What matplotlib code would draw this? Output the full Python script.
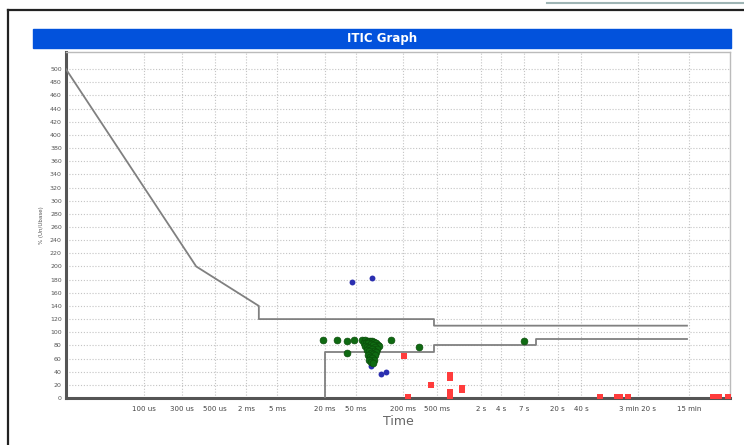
import numpy as np
import matplotlib
matplotlib.use("Agg")
import matplotlib.pyplot as plt
from matplotlib.patches import Rectangle
from matplotlib.lines import Line2D

# ITIC envelope (time in seconds, value in %)
upper_t = [1e-5, 4.6e-4, 2.9e-3, 2.9e-3, 0.5, 0.5, 850]
upper_v = [500, 200, 140, 120, 120, 110, 110]
lower_t = [0.02, 0.02, 0.5, 0.5, 10, 10, 850]
lower_v = [0, 70, 70, 80, 80, 90, 90]

# events
green_t = [0.0191, 0.0289, 0.0389, 0.0478, 0.0389, 0.142, 0.325, 7.0,
           0.060, 0.066, 0.071, 0.076, 0.080, 0.085, 0.090, 0.095, 0.100,
           0.064, 0.068, 0.072, 0.078, 0.083, 0.088, 0.093,
           0.066, 0.070, 0.075, 0.080, 0.086, 0.091,
           0.069, 0.073, 0.078, 0.083, 0.088,
           0.072, 0.076, 0.081, 0.085,
           0.075, 0.079, 0.083]
green_v = [88, 88, 87, 88, 68, 88, 78, 87,
           88, 88, 87, 87, 86, 85, 83, 81, 79,
           84, 84, 83, 82, 80, 78, 75,
           79, 78, 76, 74, 72, 70,
           73, 71, 69, 67, 65,
           66, 63, 61, 58,
           58, 55, 53]
blue_t = [0.0454, 0.081, 0.079, 0.106, 0.122]
blue_v = [176, 182, 48, 36, 40]
red_t = [0.21, 0.46, 0.23, 0.79, 0.79, 0.79, 0.79, 1.15, 1.15,
         66, 109, 120, 151, 1820, 2150, 2800]
red_v = [64, 20, 1, 35, 31, 9, 3, 15, 12,
         1, 1, 1, 1, 1, 1, 1]

tick_pos = [1e-4, 3e-4, 8e-4, 2e-3, 5e-3, 0.02, 0.05, 0.2, 0.55, 2, 3.6, 7,
            19, 38, 200, 900]
tick_lbl = ['100 us', '300 us', '500 us', '2 ms', '5 ms', '20 ms', '50 ms',
            '200 ms', '500 ms', '2 s', '4 s', '7 s', '20 s', '40 s',
            '3 min 20 s', '15 min']

fig = plt.figure(figsize=(7.44, 4.45), dpi=100)

# outer frame + title bar
fig.add_artist(Line2D([0.011, 0.011], [0.0, 0.977], transform=fig.transFigure,
                      color='#222222', lw=1.6))
fig.add_artist(Line2D([0.011, 1.0], [0.977, 0.977], transform=fig.transFigure,
                      color='#222222', lw=1.6))
fig.add_artist(Line2D([0.735, 1.0], [0.994, 0.994], transform=fig.transFigure,
                      color='#9fb5b5', lw=1.5))
fig.patches.append(Rectangle((0.0444, 0.892), 0.938, 0.043,
                             transform=fig.transFigure, color='#0252dc', zorder=1))
fig.text(0.513, 0.913, 'ITIC Graph', color='white', fontsize=8.5,
         fontweight='bold', ha='center', va='center')

ax = fig.add_axes([0.0887, 0.1056, 0.8923, 0.7774])
ax.set_xscale('log')
ax.set_xlim(1e-5, 3000)
ax.set_ylim(0, 526)

ax.plot(upper_t, upper_v, color='#808080', lw=1.3, zorder=3)
ax.plot(lower_t, lower_v, color='#808080', lw=1.3, zorder=3)

ax.scatter(red_t, red_v, marker='s', s=13, color='#ff3c3c', zorder=4, lw=0)
ax.scatter(blue_t, blue_v, marker='o', s=18, color='#2b2fb0', zorder=4, lw=0)
ax.scatter(green_t, green_v, marker='o', s=24, color='#0f6a12',
           edgecolor='#0a4d0a', lw=0.5, zorder=5)

ax.set_yticks(np.arange(0, 501, 20))
ax.set_xticks(tick_pos)
ax.set_xticklabels(tick_lbl)
ax.xaxis.set_minor_locator(matplotlib.ticker.NullLocator())
ax.tick_params(axis='y', labelsize=4.5, length=0, pad=3, labelcolor='#555555')
ax.tick_params(axis='x', labelsize=5, length=0, pad=6, labelcolor='#444444')

ax.grid(True, color='#c4c4c4', lw=0.8, linestyle=(0, (1, 1.6)))
ax.set_axisbelow(True)

for s in ['left', 'bottom']:
    ax.spines[s].set_color('#555555')
    ax.spines[s].set_linewidth(2.2)
for s in ['top', 'right']:
    ax.spines[s].set_color('#bbbbbb')
    ax.spines[s].set_linewidth(1.0)

ax.set_xlabel('Time', fontsize=9, color='#666666', labelpad=2)
ax.set_ylabel('% (Un/Ubase)', fontsize=4, color='#555555', labelpad=4)

plt.savefig('out.png', dpi=100)
